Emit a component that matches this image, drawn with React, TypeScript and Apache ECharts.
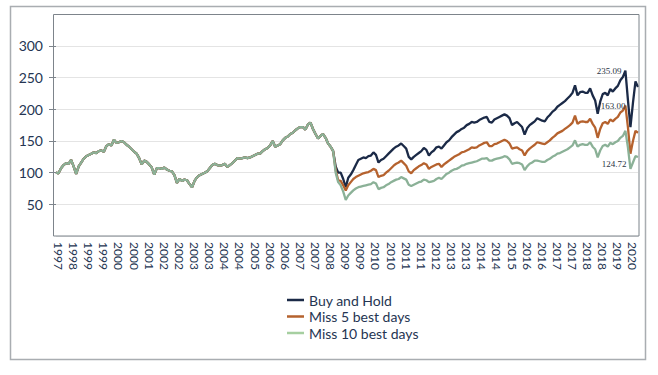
import React, { useEffect, useRef } from "react";
import * as echarts from "echarts";

// x-axis tick labels (one every 6 data points, starting at index 1)
const tickLabels: string[] = [
  "1997", "1998", "1999", "1999", "2000", "2000", "2001", "2002", "2002", "2003",
  "2003", "2004", "2004", "2005", "2006", "2006", "2007", "2007", "2008", "2009",
  "2009", "2010", "2010", "2011", "2011", "2012", "2013", "2013", "2014", "2014",
  "2015", "2016", "2016", "2017", "2017", "2018", "2018", "2019", "2020",
];

const seriesNames = ["Buy and Hold", "Miss 5 best days", "Miss 10 best days"];

// common path of all three strategies until the first missed best day (late 2008)
const sharedHistory: number[] = [
  100, 99, 107, 112, 115, 114, 120, 110, 98, 110,
  116, 122, 126, 128, 130, 132, 131, 134, 135, 133,
  142, 145, 143, 152, 147, 148, 150, 148, 144, 141,
  137, 133, 130, 123, 113, 119, 117, 113, 108, 97,
  107, 107, 106, 108, 105, 103, 102, 96, 84, 90,
  87, 89, 88, 82, 77, 87, 93, 96, 98, 100,
  102, 107, 112, 114, 112, 111, 112, 114, 109, 112,
  115, 119, 123, 122, 123, 124, 123, 124, 126, 128,
  130, 130, 134, 137, 139, 143, 150, 141, 143, 145,
  151, 155, 157, 161, 163, 167, 170, 172, 172, 168,
  176, 179, 169, 161, 154, 158, 161, 155, 146, 141,
  134,
];

const buyAndHoldTail: number[] = [
  110, 100, 100, 90, 77, 92, 97, 104, 112, 120,
  122, 124, 123, 126, 127, 132, 128, 116, 120, 122,
  126, 130, 134, 138, 141, 143, 146, 142, 138, 125,
  121, 125, 128, 131, 134, 139, 136, 127, 132, 135,
  140, 141, 138, 143, 148, 151, 156, 160, 164, 166,
  169, 171, 175, 177, 180, 179, 180, 183, 185, 187,
  188, 180, 179, 184, 186, 188, 190, 192, 190, 186,
  175, 178, 180, 176, 172, 160, 170, 175, 178, 181,
  186, 184, 182, 181, 187, 191, 196, 199, 204, 207,
  210, 213, 217, 221, 226, 238, 222, 227, 228, 226,
  226, 233, 222, 214, 193, 212, 224, 226, 222, 232,
  228, 233, 237, 246, 251, 261, 215, 172, 210, 244,
  235.09,
];

const miss5Tail: number[] = [
  104, 88, 87, 80, 72, 80, 85, 90, 93, 95,
  97, 99, 100, 101, 103, 106, 104, 93, 95, 96,
  100, 103, 107, 111, 114, 116, 119, 115, 111, 102,
  99, 104, 107, 110, 112, 115, 113, 106, 109, 111,
  113, 114, 109, 113, 116, 119, 122, 125, 127, 129,
  132, 133, 135, 137, 140, 139, 140, 143, 145, 147,
  148, 142, 142, 145, 146, 148, 150, 152, 150, 146,
  138, 139, 140, 137, 135, 127, 134, 138, 141, 144,
  148, 147, 146, 145, 148, 151, 155, 158, 162, 164,
  166, 169, 172, 175, 179, 190, 177, 180, 181, 180,
  180, 185, 177, 171, 155, 169, 178, 180, 177, 184,
  181, 185, 188, 195, 198, 206, 172, 130, 150, 166,
  163.0,
];

const miss10Tail: number[] = [
  100, 85, 80, 70, 57, 64, 68, 72, 75, 77,
  78, 79, 80, 81, 82, 85, 83, 74, 76, 77,
  80, 82, 85, 87, 89, 90, 93, 91, 89, 81,
  79, 81, 83, 85, 86, 89, 88, 85, 86, 87,
  90, 92, 90, 94, 98, 100, 103, 105, 106, 108,
  111, 112, 114, 115, 116, 117, 118, 120, 122, 122,
  123, 119, 119, 121, 122, 123, 124, 126, 125, 121,
  114, 115, 116, 115, 113, 104, 110, 114, 116, 119,
  119, 118, 117, 117, 120, 122, 125, 127, 130, 131,
  133, 135, 137, 140, 143, 151, 141, 144, 145, 144,
  144, 148, 141, 137, 124, 135, 142, 144, 141, 147,
  145, 148, 150, 155, 158, 166, 140, 106, 116, 126,
  124.72,
];

const yTicks = [0, 50, 100, 150, 200, 250, 300, 350];

const colors = ["#1b2a47", "#b5622e", "#8bb197"];
const legendColors = ["#1b2a47", "#b5622e", "#a6cfa0"];
const labelOffsets: [number, number][] = [
  [-29, -16],
  [-25, -27],
  [-24, 7],
];

const LABEL_STEP = 6;
const LABEL_START = 1;

export default function App() {
  const ref = useRef<HTMLDivElement>(null);

  useEffect(() => {
    if (!ref.current) return;
    const chart = echarts.init(ref.current, undefined, { renderer: "svg" });

    const seriesData = [
      sharedHistory.concat(buyAndHoldTail),
      sharedHistory.concat(miss5Tail),
      sharedHistory.concat(miss10Tail),
    ];
    const n = seriesData[0].length;
    const categories = Array.from({ length: n }, (_, i) =>
      i >= LABEL_START && (i - LABEL_START) % LABEL_STEP === 0
        ? tickLabels[(i - LABEL_START) / LABEL_STEP] ?? ""
        : ""
    );

    const textColor = "#253552";

    chart.setOption({
      animation: false,
      backgroundColor: "#ffffff",
      grid: {
        left: 56,
        right: 20,
        top: 14.3,
        bottom: 139,
        containLabel: false,
      },
      xAxis: {
        type: "category",
        data: categories,
        boundaryGap: false,
        axisLine: { show: false },
        axisTick: { show: false },
        splitLine: { show: false },
        axisLabel: {
          interval: 0,
          rotate: -90,
          margin: 6,
          color: textColor,
          fontFamily: "Lato",
          fontSize: 12,
        },
      },
      yAxis: {
        type: "value",
        min: yTicks[0],
        max: yTicks[yTicks.length - 1],
        interval: 50,
        axisLine: { show: false },
        axisTick: { show: true, length: 7, lineStyle: { color: "#7d848b" } },
        axisLabel: {
          showMinLabel: false,
          showMaxLabel: false,
          margin: 13,
          color: textColor,
          fontFamily: "Lato",
          fontSize: 14,
        },
        splitLine: { show: true, lineStyle: { color: "#e4e4e4", width: 1 } },
      },
      legend: {
        orient: "vertical",
        left: 282,
        top: 288,
        icon: "rect",
        itemWidth: 17,
        itemHeight: 2.5,
        itemGap: 2.5,
        data: seriesNames.map((name, k) => ({
          name,
          itemStyle: { color: legendColors[k] },
        })),
        textStyle: { color: textColor, fontFamily: "Lato", fontSize: 14 },
      },
      graphic: [
        {
          type: "rect",
          shape: { x: 10.5, y: 6.5, width: 635, height: 353 },
          style: { fill: "none", stroke: "#a9adb1", lineWidth: 1.5 },
          silent: true,
        },
        {
          type: "rect",
          shape: { x: 53.5, y: 14.5, width: 585.5, height: 221.5 },
          style: { fill: "none", stroke: "#7d848b", lineWidth: 1 },
          silent: true,
          z: 100,
        },
      ],
      series: seriesNames.map((name, k) => {
        const data = seriesData[k];
        const last = data[data.length - 1];
        return {
          name,
          type: "line",
          data,
          symbol: "none",
          showSymbol: false,
          smooth: false,
          silent: true,
          z: 2 + k,
          color: colors[k],
          lineStyle: { color: colors[k], width: 2.3 },
          markPoint: {
            symbol: "circle",
            symbolSize: 0,
            silent: true,
            data: [
              {
                coord: [n - 1, last],
                value: last,
              },
            ],
            label: {
              show: true,
              position: "inside",
              offset: labelOffsets[k],
              formatter: (p: any) => Number(p.value).toFixed(2),
              fontFamily: "Liberation Serif",
              fontSize: 9,
              color: "#2b3444",
            },
          },
        };
      }),
    });

    return () => {
      chart.dispose();
    };
  }, []);

  return (
    <div
      ref={ref}
      style={{ position: "absolute", left: 0, top: 0, width: 658, height: 375, background: "#fff" }}
    />
  );
}
